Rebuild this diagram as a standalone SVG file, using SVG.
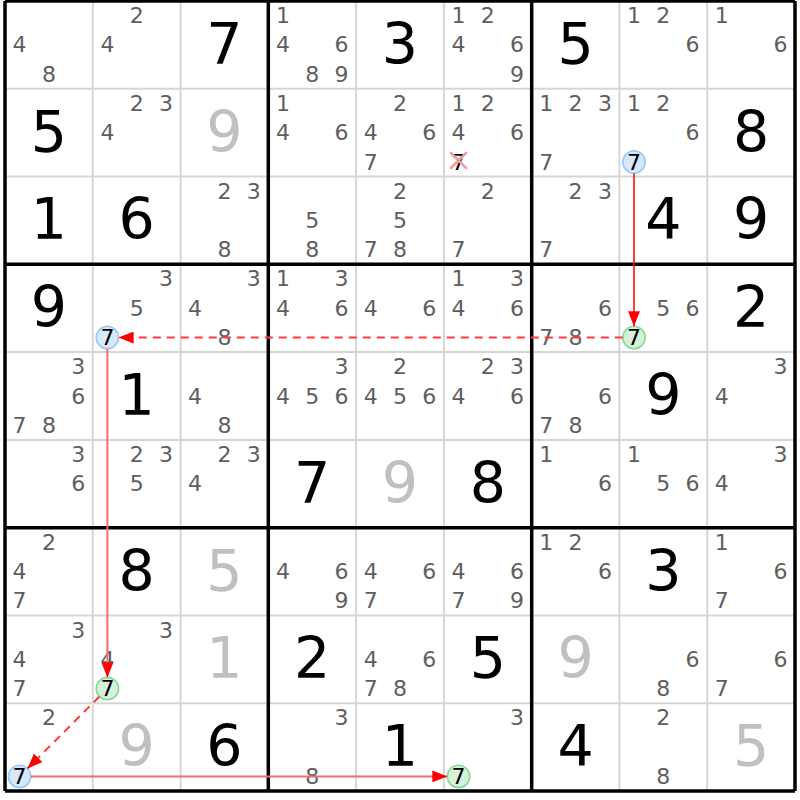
<svg xmlns="http://www.w3.org/2000/svg" width="800" height="800" viewBox="0 0 800 800">
<style>
text{font-family:"DejaVu Sans","Verdana",sans-serif;text-anchor:middle}
.c{font-size:22px;fill:#5e5e5e}
.g{font-size:57px;fill:#000}
.s{font-size:57px;fill:#c0c0c0}
.k{font-size:22px;fill:#000}
.thin{stroke:#d6d6d6;stroke-width:2}
.thick{stroke:#000;stroke-width:3.5}
.cb{fill:#d6e8fb;stroke:#9ccaf2;stroke-width:1.6}
.cg{fill:#d4f2da;stroke:#86da9a;stroke-width:1.6}
.ln{fill:none;stroke:#ff0000;stroke-width:1.5}
.lt{fill:none;stroke:#f36f6f;stroke-width:2}
.ld{fill:none;stroke:#ff3838;stroke-width:2;stroke-dasharray:8 6}
.x{stroke:#f49a9a;stroke-width:2.5;stroke-linecap:round}
</style>
<defs>
<marker id="ah" markerUnits="userSpaceOnUse" markerWidth="15" markerHeight="12" refX="15" refY="6" orient="auto">
<path d="M0,0 L15,6 L0,12 z" fill="#ff0000"/>
</marker>
</defs>
<rect width="800" height="800" fill="#fff"/>
<g id="grid">
<g class="thin">
<line x1="92.8" y1="1" x2="92.8" y2="791"/><line x1="180.6" y1="1" x2="180.6" y2="791"/>
<line x1="356.1" y1="1" x2="356.1" y2="791"/><line x1="443.9" y1="1" x2="443.9" y2="791"/>
<line x1="619.4" y1="1" x2="619.4" y2="791"/><line x1="707.2" y1="1" x2="707.2" y2="791"/>
<line x1="5" y1="88.8" x2="795" y2="88.8"/><line x1="5" y1="176.6" x2="795" y2="176.6"/>
<line x1="5" y1="352.1" x2="795" y2="352.1"/><line x1="5" y1="439.9" x2="795" y2="439.9"/>
<line x1="5" y1="615.4" x2="795" y2="615.4"/><line x1="5" y1="703.2" x2="795" y2="703.2"/>
</g>
<g class="thick">
<line x1="5" y1="1" x2="5" y2="791"/><line x1="268.3" y1="1" x2="268.3" y2="791"/>
<line x1="531.7" y1="1" x2="531.7" y2="791"/><line x1="795" y1="1" x2="795" y2="791"/>
<line x1="5" y1="1" x2="795" y2="1"/><line x1="5" y1="264.3" x2="795" y2="264.3"/>
<line x1="5" y1="527.7" x2="795" y2="527.7"/><line x1="5" y1="791" x2="795" y2="791"/>
</g>
</g>
<!-- Row 0 -->
<g id="r0c0"><text class="c" x="19.6" y="52.4">4</text><text class="c" x="48.9" y="81.7">8</text></g>
<g id="r0c1"><text class="c" x="136.7" y="23.1">2</text><text class="c" x="107.4" y="52.4">4</text></g>
<g id="r0c2"><text class="g" x="224.4" y="63.9">7</text></g>
<g id="r0c3"><text class="c" x="282.9" y="23.1">1</text><text class="c" x="282.9" y="52.4">4</text><text class="c" x="341.5" y="52.4">6</text><text class="c" x="312.2" y="81.7">8</text><text class="c" x="341.5" y="81.7">9</text></g>
<g id="r0c4"><text class="g" x="400" y="63.9">3</text></g>
<g id="r0c5"><text class="c" x="458.5" y="23.1">1</text><text class="c" x="487.8" y="23.1">2</text><text class="c" x="458.5" y="52.4">4</text><text class="c" x="517.1" y="52.4">6</text><text class="c" x="517.1" y="81.7">9</text></g>
<g id="r0c6"><text class="g" x="575.6" y="63.9">5</text></g>
<g id="r0c7"><text class="c" x="634" y="23.1">1</text><text class="c" x="663.3" y="23.1">2</text><text class="c" x="692.6" y="52.4">6</text></g>
<g id="r0c8"><text class="c" x="721.8" y="23.1">1</text><text class="c" x="780.4" y="52.4">6</text></g>
<!-- Row 1 -->
<g id="r1c0"><text class="g" x="48.9" y="151.7">5</text></g>
<g id="r1c1"><text class="c" x="136.7" y="110.9">2</text><text class="c" x="166" y="110.9">3</text><text class="c" x="107.4" y="140.2">4</text></g>
<g id="r1c2"><text class="s" x="224.4" y="151.7">9</text></g>
<g id="r1c3"><text class="c" x="282.9" y="110.9">1</text><text class="c" x="282.9" y="140.2">4</text><text class="c" x="341.5" y="140.2">6</text></g>
<g id="r1c4"><text class="c" x="400" y="110.9">2</text><text class="c" x="370.7" y="140.2">4</text><text class="c" x="429.3" y="140.2">6</text><text class="c" x="370.7" y="169.5">7</text></g>
<g id="r1c5"><text class="c" x="458.5" y="110.9">1</text><text class="c" x="487.8" y="110.9">2</text><text class="c" x="458.5" y="140.2">4</text><text class="c" x="517.1" y="140.2">6</text><text class="k" x="458.5" y="169.5">7</text><line class="x" x1="451" y1="153" x2="466" y2="168"/><line class="x" x1="466" y1="153" x2="451" y2="168"/></g>
<g id="r1c6"><text class="c" x="546.3" y="110.9">1</text><text class="c" x="575.6" y="110.9">2</text><text class="c" x="604.9" y="110.9">3</text><text class="c" x="546.3" y="169.5">7</text></g>
<g id="r1c7"><text class="c" x="634" y="110.9">1</text><text class="c" x="663.3" y="110.9">2</text><text class="c" x="692.6" y="140.2">6</text><circle class="cb" cx="634" cy="162" r="11.2"/><text class="k" x="634" y="169.5">7</text></g>
<g id="r1c8"><text class="g" x="751.1" y="151.7">8</text></g>
<!-- Row 2 -->
<g id="r2c0"><text class="g" x="48.9" y="239.4">1</text></g>
<g id="r2c1"><text class="g" x="136.7" y="239.4">6</text></g>
<g id="r2c2"><text class="c" x="224.4" y="198.6">2</text><text class="c" x="253.7" y="198.6">3</text><text class="c" x="224.4" y="257.2">8</text></g>
<g id="r2c3"><text class="c" x="312.2" y="227.9">5</text><text class="c" x="312.2" y="257.2">8</text></g>
<g id="r2c4"><text class="c" x="400" y="198.6">2</text><text class="c" x="400" y="227.9">5</text><text class="c" x="370.7" y="257.2">7</text><text class="c" x="400" y="257.2">8</text></g>
<g id="r2c5"><text class="c" x="487.8" y="198.6">2</text><text class="c" x="458.5" y="257.2">7</text></g>
<g id="r2c6"><text class="c" x="575.6" y="198.6">2</text><text class="c" x="604.9" y="198.6">3</text><text class="c" x="546.3" y="257.2">7</text></g>
<g id="r2c7"><text class="g" x="663.3" y="239.4">4</text></g>
<g id="r2c8"><text class="g" x="751.1" y="239.4">9</text></g>
<!-- Row 3 -->
<g id="r3c0"><text class="g" x="48.9" y="327.2">9</text></g>
<g id="r3c1"><text class="c" x="166" y="286.4">3</text><text class="c" x="136.7" y="315.7">5</text><circle class="cb" cx="107.4" cy="337.5" r="11.2"/><text class="k" x="107.4" y="345">7</text></g>
<g id="r3c2"><text class="c" x="253.7" y="286.4">3</text><text class="c" x="195.1" y="315.7">4</text><text class="c" x="224.4" y="345">8</text></g>
<g id="r3c3"><text class="c" x="282.9" y="286.4">1</text><text class="c" x="341.5" y="286.4">3</text><text class="c" x="282.9" y="315.7">4</text><text class="c" x="341.5" y="315.7">6</text></g>
<g id="r3c4"><text class="c" x="370.7" y="315.7">4</text><text class="c" x="429.3" y="315.7">6</text></g>
<g id="r3c5"><text class="c" x="458.5" y="286.4">1</text><text class="c" x="517.1" y="286.4">3</text><text class="c" x="458.5" y="315.7">4</text><text class="c" x="517.1" y="315.7">6</text></g>
<g id="r3c6"><text class="c" x="604.9" y="315.7">6</text><text class="c" x="546.3" y="345">7</text><text class="c" x="575.6" y="345">8</text></g>
<g id="r3c7"><text class="c" x="663.3" y="315.7">5</text><text class="c" x="692.6" y="315.7">6</text><circle class="cg" cx="634" cy="337.5" r="11.2"/><text class="k" x="634" y="345">7</text></g>
<g id="r3c8"><text class="g" x="751.1" y="327.2">2</text></g>
<!-- Row 4 -->
<g id="r4c0"><text class="c" x="78.2" y="374.2">3</text><text class="c" x="78.2" y="403.5">6</text><text class="c" x="19.6" y="432.8">7</text><text class="c" x="48.9" y="432.8">8</text></g>
<g id="r4c1"><text class="g" x="136.7" y="415">1</text></g>
<g id="r4c2"><text class="c" x="195.1" y="403.5">4</text><text class="c" x="224.4" y="432.8">8</text></g>
<g id="r4c3"><text class="c" x="341.5" y="374.2">3</text><text class="c" x="282.9" y="403.5">4</text><text class="c" x="312.2" y="403.5">5</text><text class="c" x="341.5" y="403.5">6</text></g>
<g id="r4c4"><text class="c" x="400" y="374.2">2</text><text class="c" x="370.7" y="403.5">4</text><text class="c" x="400" y="403.5">5</text><text class="c" x="429.3" y="403.5">6</text></g>
<g id="r4c5"><text class="c" x="487.8" y="374.2">2</text><text class="c" x="517.1" y="374.2">3</text><text class="c" x="458.5" y="403.5">4</text><text class="c" x="517.1" y="403.5">6</text></g>
<g id="r4c6"><text class="c" x="604.9" y="403.5">6</text><text class="c" x="546.3" y="432.8">7</text><text class="c" x="575.6" y="432.8">8</text></g>
<g id="r4c7"><text class="g" x="663.3" y="415">9</text></g>
<g id="r4c8"><text class="c" x="780.4" y="374.2">3</text><text class="c" x="721.8" y="403.5">4</text></g>
<!-- Row 5 -->
<g id="r5c0"><text class="c" x="78.2" y="462">3</text><text class="c" x="78.2" y="491.3">6</text></g>
<g id="r5c1"><text class="c" x="136.7" y="462">2</text><text class="c" x="166" y="462">3</text><text class="c" x="136.7" y="491.3">5</text></g>
<g id="r5c2"><text class="c" x="224.4" y="462">2</text><text class="c" x="253.7" y="462">3</text><text class="c" x="195.1" y="491.3">4</text></g>
<g id="r5c3"><text class="g" x="312.2" y="502.8">7</text></g>
<g id="r5c4"><text class="s" x="400" y="502.8">9</text></g>
<g id="r5c5"><text class="g" x="487.8" y="502.8">8</text></g>
<g id="r5c6"><text class="c" x="546.3" y="462">1</text><text class="c" x="604.9" y="491.3">6</text></g>
<g id="r5c7"><text class="c" x="634" y="462">1</text><text class="c" x="663.3" y="491.3">5</text><text class="c" x="692.6" y="491.3">6</text></g>
<g id="r5c8"><text class="c" x="780.4" y="462">3</text><text class="c" x="721.8" y="491.3">4</text></g>
<!-- Row 6 -->
<g id="r6c0"><text class="c" x="48.9" y="549.8">2</text><text class="c" x="19.6" y="579.1">4</text><text class="c" x="19.6" y="608.4">7</text></g>
<g id="r6c1"><text class="g" x="136.7" y="590.6">8</text></g>
<g id="r6c2"><text class="s" x="224.4" y="590.6">5</text></g>
<g id="r6c3"><text class="c" x="282.9" y="579.1">4</text><text class="c" x="341.5" y="579.1">6</text><text class="c" x="341.5" y="608.4">9</text></g>
<g id="r6c4"><text class="c" x="370.7" y="579.1">4</text><text class="c" x="429.3" y="579.1">6</text><text class="c" x="370.7" y="608.4">7</text></g>
<g id="r6c5"><text class="c" x="458.5" y="579.1">4</text><text class="c" x="517.1" y="579.1">6</text><text class="c" x="458.5" y="608.4">7</text><text class="c" x="517.1" y="608.4">9</text></g>
<g id="r6c6"><text class="c" x="546.3" y="549.8">1</text><text class="c" x="575.6" y="549.8">2</text><text class="c" x="604.9" y="579.1">6</text></g>
<g id="r6c7"><text class="g" x="663.3" y="590.6">3</text></g>
<g id="r6c8"><text class="c" x="721.8" y="549.8">1</text><text class="c" x="780.4" y="579.1">6</text><text class="c" x="721.8" y="608.4">7</text></g>
<!-- Row 7 -->
<g id="r7c0"><text class="c" x="78.2" y="637.5">3</text><text class="c" x="19.6" y="666.8">4</text><text class="c" x="19.6" y="696.1">7</text></g>
<g id="r7c1"><text class="c" x="166" y="637.5">3</text><text class="c" x="107.4" y="666.8">4</text><circle class="cg" cx="107.4" cy="688.6" r="11.2"/><text class="k" x="107.4" y="696.1">7</text></g>
<g id="r7c2"><text class="s" x="224.4" y="678.3">1</text></g>
<g id="r7c3"><text class="g" x="312.2" y="678.3">2</text></g>
<g id="r7c4"><text class="c" x="370.7" y="666.8">4</text><text class="c" x="429.3" y="666.8">6</text><text class="c" x="370.7" y="696.1">7</text><text class="c" x="400" y="696.1">8</text></g>
<g id="r7c5"><text class="g" x="487.8" y="678.3">5</text></g>
<g id="r7c6"><text class="s" x="575.6" y="678.3">9</text></g>
<g id="r7c7"><text class="c" x="692.6" y="666.8">6</text><text class="c" x="663.3" y="696.1">8</text></g>
<g id="r7c8"><text class="c" x="780.4" y="666.8">6</text><text class="c" x="721.8" y="696.1">7</text></g>
<!-- Row 8 -->
<g id="r8c0"><text class="c" x="48.9" y="725.3">2</text><circle class="cb" cx="19.6" cy="776.4" r="11.2"/><text class="k" x="19.6" y="783.9">7</text></g>
<g id="r8c1"><text class="s" x="136.7" y="766.1">9</text></g>
<g id="r8c2"><text class="g" x="224.4" y="766.1">6</text></g>
<g id="r8c3"><text class="c" x="341.5" y="725.3">3</text><text class="c" x="312.2" y="783.9">8</text></g>
<g id="r8c4"><text class="g" x="400" y="766.1">1</text></g>
<g id="r8c5"><text class="c" x="517.1" y="725.3">3</text><circle class="cg" cx="458.5" cy="776.4" r="11.2"/><text class="k" x="458.5" y="783.9">7</text></g>
<g id="r8c6"><text class="g" x="575.6" y="766.1">4</text></g>
<g id="r8c7"><text class="c" x="663.3" y="725.3">2</text><text class="c" x="663.3" y="783.9">8</text></g>
<g id="r8c8"><text class="s" x="751.1" y="766.1">5</text></g>
<g id="connectors">
<line class="ln" x1="634" y1="173.2" x2="634" y2="326.3" marker-end="url(#ah)"/>
<line class="ld" x1="622.8" y1="337.5" x2="118.6" y2="337.5" marker-end="url(#ah)"/>
<line class="lt" x1="107.4" y1="348.7" x2="107.4" y2="677.4" marker-end="url(#ah)"/>
<line class="ld" x1="99.5" y1="696.5" x2="27.5" y2="768.5" marker-end="url(#ah)"/>
<line class="lt" x1="30.8" y1="776.4" x2="447.3" y2="776.4" marker-end="url(#ah)"/>
</g>
</svg>
